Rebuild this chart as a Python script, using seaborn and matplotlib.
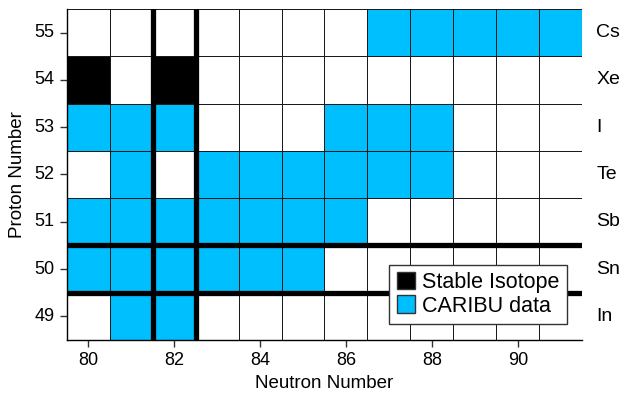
import numpy as np
import pandas as pd
import matplotlib
matplotlib.use("Agg")
import matplotlib.pyplot as plt
from matplotlib.colors import ListedColormap
from matplotlib.patches import Patch
import seaborn as sns

# chart of nuclides around the doubly-magic 132Sn
neutrons = [80, 81, 82, 83, 84, 85, 86, 87, 88, 89, 90, 91]
protons = [55, 54, 53, 52, 51, 50, 49]
elements = ["Cs", "Xe", "I", "Te", "Sb", "Sn", "In"]

stable = {54: [80, 82]}
caribu = {
    55: [87, 88, 89, 90, 91],
    53: [80, 81, 82, 86, 87, 88],
    52: [81, 83, 84, 85, 86, 87, 88],
    51: [80, 81, 82, 83, 84, 85, 86],
    50: [80, 81, 82, 83, 84, 85],
    49: [81, 82],
}
magic_n = 82
magic_z = 50

# 0 = nothing, 1 = stable, 2 = CARIBU
grid = pd.DataFrame(0, index=protons, columns=neutrons)
for z, ns in caribu.items():
    grid.loc[z, ns] = 2
for z, ns in stable.items():
    grid.loc[z, ns] = 1

sns.set_style("white")
plt.rcParams["font.family"] = ["Liberation Sans", "DejaVu Sans"]
plt.rcParams["text.color"] = "black"
plt.rcParams["axes.labelcolor"] = "black"
plt.rcParams["xtick.color"] = "black"
plt.rcParams["ytick.color"] = "black"

cyan = "#00BFFF"
cmap = ListedColormap(["white", "black", cyan])

fig = plt.figure(figsize=(6.24, 3.93), dpi=100)
ax = fig.add_axes([0.107, 0.135, 0.826, 0.842])
sns.heatmap(grid, cmap=cmap, vmin=-0.5, vmax=2.5, cbar=False,
            linewidths=0.5, linecolor="#1a1a1a", ax=ax)

# magic number lines
i = neutrons.index(magic_n)
ax.axvline(i, color="black", lw=3.8)
ax.axvline(i + 1, color="black", lw=3.8)
j = protons.index(magic_z)
ax.axhline(j, color="black", lw=3.8)
ax.axhline(j + 1, color="black", lw=3.8)

xt = [n for n in neutrons if n % 2 == 0]
ax.set_xticks([neutrons.index(n) + 0.5 for n in xt])
ax.set_xticklabels(xt, rotation=0)
ax.set_yticks([k + 0.5 for k in range(len(protons))])
ax.set_yticklabels(protons, rotation=0)
ax.tick_params(axis="both", direction="out", length=5, width=1,
               color="#333333", labelcolor="black", labelsize=13, pad=4,
               bottom=True, left=True)

for name in ["left", "bottom"]:
    ax.spines[name].set_visible(True)
    ax.spines[name].set_color("black")
    ax.spines[name].set_linewidth(1)

ax.set_xlabel("Neutron Number", fontsize=13.5, labelpad=4)
ax.set_ylabel("Proton Number", fontsize=13.5, labelpad=6)

for k, el in enumerate(elements):
    ax.text(len(neutrons) + 0.33, k + 0.5, el, fontsize=14,
            ha="left", va="center")

handles = [Patch(facecolor="black", edgecolor="#333333", label="Stable Isotope"),
           Patch(facecolor=cyan, edgecolor="#333333", label="CARIBU data")]
leg = ax.legend(handles=handles, loc="lower right",
                bbox_to_anchor=(0.971, 0.048), borderaxespad=0,
                fontsize=15.5, frameon=True, fancybox=False,
                handlelength=0.85, handleheight=0.85, handletextpad=0.35,
                labelspacing=0.1, borderpad=0.35)
leg.get_frame().set_edgecolor("#333333")
leg.get_frame().set_linewidth(1)
leg.get_frame().set_alpha(1)
leg.set_zorder(10)

fig.savefig("out.png", dpi=100)
